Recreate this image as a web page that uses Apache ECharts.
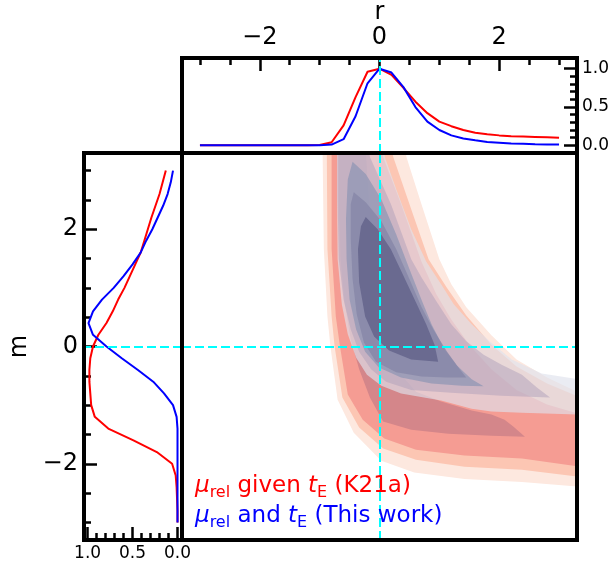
<!DOCTYPE html>
<html>
<head>
<meta charset="utf-8">
<script src="https://cdn.jsdelivr.net/npm/echarts@6/dist/echarts.min.js"></script>
<style>
html, body { margin: 0; padding: 0; background: #fff; }
#chart { width: 615px; height: 565px; }
</style>
</head>
<body>
<div id="chart"></div>
<script>
// marginal of r (top panel)
var rGrid = [-3.0, -2.8, -2.6, -2.4, -2.2, -2.0, -1.8, -1.6, -1.4, -1.2, -1.0, -0.8, -0.6, -0.4, -0.2,
    0.0, 0.2, 0.4, 0.6, 0.8, 1.0, 1.2, 1.4, 1.6, 1.8, 2.0, 2.2, 2.4, 2.6, 2.8, 3.0];
var redR = [0, 0, 0, 0, 0, 0, 0, 0, 0, 0, 0.005, 0.04, 0.26, 0.63, 0.96,
    1.0, 0.92, 0.75, 0.57, 0.42, 0.31, 0.25, 0.20, 0.165, 0.145, 0.13, 0.12, 0.115, 0.11, 0.105, 0.10];
var blueR = [0, 0, 0, 0, 0, 0, 0, 0, 0, 0, 0, 0.01, 0.08, 0.38, 0.81,
    1.0, 0.95, 0.76, 0.50, 0.31, 0.20, 0.13, 0.09, 0.065, 0.045, 0.035, 0.025, 0.02, 0.015, 0.012, 0.01];

// marginal of m (left panel)
var mGrid = [3.0, 2.8, 2.6, 2.4, 2.2, 2.0, 1.8, 1.6, 1.4, 1.2, 1.0, 0.8, 0.6, 0.4, 0.2,
    0.0, -0.2, -0.4, -0.6, -0.8, -1.0, -1.2, -1.4, -1.6, -1.8, -2.0, -2.2, -2.4, -2.6, -2.8, -3.0];
var redM = [0.13, 0.165, 0.20, 0.245, 0.29, 0.33, 0.37, 0.41, 0.47, 0.53, 0.59, 0.66, 0.72, 0.79, 0.88,
    0.94, 0.97, 0.98, 0.98, 0.97, 0.96, 0.92, 0.77, 0.49, 0.23, 0.06, 0.02, 0.01, 0.005, 0, 0];
var blueM = [0.05, 0.075, 0.11, 0.16, 0.22, 0.28, 0.35, 0.41, 0.50, 0.60, 0.71, 0.84, 0.94, 0.99, 0.94,
    0.79, 0.62, 0.44, 0.27, 0.15, 0.05, 0.01, 0, 0, 0, 0, 0, 0, 0, 0, 0];

// ticks
var rMajor = [-2, 0, 2];
var rMinor = [-3, -2.5, -1.5, -1, -0.5, 0.5, 1, 1.5, 2.5, 3];
var mMajor = [-2, 0, 2];
var mMinor = [-3, -2.5, -1.5, -1, -0.5, 0.5, 1, 1.5, 2.5, 3];
var pMajor = [0, 0.5, 1];
var pMinor = [0.1, 0.2, 0.3, 0.4, 0.6, 0.7, 0.8, 0.9];

// contour boundaries [r, m], lower-left edge then upper-right edge
// K21a (red)
var red1Lower = [[-0.95,3.54],[-0.95,3.25],[-0.93,1.66],[-0.87,0.51],[-0.82,0.00],[-0.70,-0.91],[-0.43,-1.47],[0.03,-1.95],[0.58,-2.15],[1.42,-2.26],[2.38,-2.31],[3.34,-2.39],[3.72,-2.41]];
var red1Upper = [[3.72,-0.85],[3.34,-0.79],[2.80,-0.53],[2.29,-0.22],[1.87,0.19],[1.45,0.67],[1.20,1.06],[1.00,1.49],[0.70,2.43],[0.45,3.23],[0.41,3.54]];
var red2Lower = [[-0.88,3.54],[-0.88,3.25],[-0.87,1.66],[-0.80,0.51],[-0.75,0.00],[-0.62,-0.87],[-0.34,-1.38],[0.06,-1.74],[0.61,-1.93],[1.42,-2.05],[2.38,-2.10],[3.34,-2.22],[3.72,-2.24]];
var red2Upper = [[3.72,-0.90],[3.34,-0.86],[2.80,-0.63],[2.29,-0.34],[1.87,0.03],[1.45,0.53],[1.12,1.01],[0.82,1.49],[0.53,2.34],[0.23,3.23],[0.16,3.54]];
var red3Lower = [[-0.80,3.54],[-0.80,1.66],[-0.73,0.51],[-0.66,0.00],[-0.53,-0.82],[-0.28,-1.25],[0.08,-1.57],[0.61,-1.76],[1.42,-1.86],[2.38,-1.91],[3.34,-2.05],[3.72,-2.07]];
var red3Upper = [[3.72,-1.16],[3.34,-1.15],[2.80,-0.99],[2.29,-0.74],[1.87,-0.39],[1.50,0.03],[1.20,0.46],[0.95,0.89],[0.70,1.45],[0.36,2.43],[0.06,3.23],[-0.01,3.54]];
var red4Lower = [[-0.68,3.54],[-0.68,2.51],[-0.65,1.49],[-0.58,0.72],[-0.48,0.12],[-0.34,-0.39],[-0.16,-0.87],[0.06,-1.28],[0.53,-1.42],[1.15,-1.49],[1.87,-1.52],[2.43,-1.54]];
var red4Upper = [[2.24,-1.37],[2.09,-1.25],[1.87,-1.16],[1.54,-1.09],[1.03,-0.94],[0.61,-0.77],[0.28,-0.39],[0.11,0.29],[-0.06,1.32],[-0.18,2.51],[-0.24,3.54]];
// this work (blue)
var blueELower = [[-0.71,3.54],[-0.71,2.51],[-0.70,1.49],[-0.63,0.72],[-0.53,0.21],[-0.39,-0.19],[-0.21,-0.48],[0.03,-0.67],[0.36,-0.80],[1.03,-0.92],[1.54,-1.06],[1.87,-1.11],[2.38,-1.13],[3.34,-1.16],[3.72,-1.18]];
var blueEUpper = [[3.72,-0.60],[3.34,-0.56],[2.71,-0.46],[2.21,-0.22],[1.84,0.09],[1.54,0.38],[1.24,0.72],[1.03,1.06],[0.78,1.45],[0.53,2.00],[0.28,2.68],[0.09,3.23],[0.06,3.54]];
var blueMLower = [[-0.70,3.54],[-0.70,2.51],[-0.68,1.49],[-0.60,0.80],[-0.48,0.29],[-0.34,-0.09],[-0.14,-0.39],[0.11,-0.60],[0.53,-0.74],[1.20,-0.79],[2.04,-0.84],[2.85,-0.87]];
var blueMUpper = [[2.63,-0.70],[2.38,-0.48],[2.04,-0.31],[1.74,-0.14],[1.45,0.09],[1.20,0.38],[0.95,0.77],[0.70,1.18],[0.53,1.49],[0.19,2.43],[-0.16,3.23],[-0.21,3.54]];
var blueALower = [[-0.45,3.15],[-0.53,2.85],[-0.56,2.17],[-0.55,1.49],[-0.50,0.80],[-0.39,0.29],[-0.24,-0.09],[-0.01,-0.36],[0.36,-0.53],[0.87,-0.63],[1.37,-0.67],[1.74,-0.68]];
var blueAUpper = [[1.54,-0.56],[1.29,-0.32],[1.07,-0.02],[0.87,0.38],[0.70,0.80],[0.50,1.32],[0.28,1.91],[0.03,2.51],[-0.23,2.94]];
var blueBLower = [[-0.43,2.63],[-0.48,2.43],[-0.48,1.83],[-0.45,1.15],[-0.38,0.55],[-0.26,0.07],[-0.06,-0.26],[0.28,-0.44],[0.70,-0.51],[1.12,-0.53],[1.45,-0.53]];
var blueBUpper = [[1.34,-0.39],[1.13,-0.09],[0.90,0.29],[0.70,0.68],[0.50,1.15],[0.28,1.66],[0.03,2.14],[-0.23,2.46]];
var blueDLower = [[-0.23,2.21],[-0.31,2.05],[-0.36,1.66],[-0.34,1.09],[-0.24,0.51],[-0.09,0.17],[0.16,-0.07],[0.53,-0.22],[0.98,-0.26]];
var blueDUpper = [[0.92,0.03],[0.78,0.38],[0.61,0.75],[0.39,1.23],[0.19,1.66],[-0.03,2.00]];

var contourShapes = [
    red1Lower.concat(red1Upper),
    red2Lower.concat(red2Upper),
    red3Lower.concat(red3Upper),
    red4Lower.concat(red4Upper),
    blueELower.concat(blueEUpper),
    blueMLower.concat(blueMUpper),
    blueALower.concat(blueAUpper),
    blueBLower.concat(blueBUpper),
    blueDLower.concat(blueDUpper)
];
var contourColors = ['#fde8df', '#fcc6b3', '#f59c93', '#d4868a',
    'rgba(222,226,236,0.65)', 'rgba(175,160,185,0.5)', 'rgba(130,143,177,0.6)',
    'rgba(127,127,161,0.6)', 'rgba(98,98,138,0.8)'];

// layout (px)
var TOP = {left: 182, top: 58, width: 395, height: 95};
var SIDE = {left: 84, top: 153, width: 98, height: 387};
var MAIN = {left: 182, top: 153, width: 395, height: 387};

function minus(v) { return String(v).replace('-', '\u2212'); }
function oneDec(v) { return v.toFixed(1); }

function axis(grid, pos, min, max, extra) {
    var a = {
        gridIndex: grid, type: 'value', position: pos, min: min, max: max,
        axisLine: {show: false, onZero: false},
        splitLine: {show: false},
        axisTick: {show: false},
        axisLabel: {show: false}
    };
    return Object.assign(a, extra || {});
}
function ticks(vals, len) {
    return {show: true, inside: true, length: len, customValues: vals, lineStyle: {color: '#000', width: 2.5}};
}

var cyan = {color: '#00ffff', type: [9, 4], width: 2};
function refLine(items) {
    return {silent: true, symbol: ['none', 'none'], label: {show: false}, lineStyle: cyan, data: items, animation: false};
}

function zip(a, b) {
    return a.map(function (v, i) { return [v, b[i]]; });
}

function renderContour(params, api) {
    var pts = contourShapes[params.dataIndex].map(function (p) { return api.coord(p); });
    return {type: 'polygon', shape: {points: pts}, style: {fill: contourColors[params.dataIndex]}};
}

var chart = echarts.init(document.getElementById('chart'));

var option = {
    animation: false,
    backgroundColor: '#fff',
    textStyle: {fontFamily: 'DejaVu Sans'},
    grid: [
        Object.assign({containLabel: false, outerBoundsMode: 'none'}, TOP),
        Object.assign({containLabel: false, outerBoundsMode: 'none'}, SIDE),
        Object.assign({containLabel: false, outerBoundsMode: 'none'}, MAIN)
    ],
    xAxis: [
        axis(0, 'top', -3.3, 3.3, {
            axisTick: ticks(rMajor, 13),
            axisLabel: {show: true, customValues: rMajor, formatter: minus, fontSize: 24, color: '#000', margin: 8},
            name: 'r', nameLocation: 'middle', nameGap: 33,
            nameTextStyle: {fontSize: 24, color: '#000'}
        }),
        axis(0, 'top', -3.3, 3.3, {axisTick: ticks(rMinor, 7)}),
        axis(1, 'bottom', -0.05, 1.04, {
            inverse: true,
            axisTick: ticks(pMajor, 13),
            axisLabel: {show: true, customValues: pMajor, formatter: oneDec, fontSize: 17, color: '#000', margin: 5}
        }),
        axis(1, 'bottom', -0.05, 1.04, {inverse: true, axisTick: ticks(pMinor, 7)}),
        axis(2, 'bottom', -3.3, 3.3, {show: false})
    ],
    yAxis: [
        axis(0, 'right', -0.1, 1.14, {
            axisTick: ticks(pMajor, 13),
            axisLabel: {show: true, customValues: pMajor, formatter: oneDec, fontSize: 17, color: '#000', margin: 5}
        }),
        axis(0, 'right', -0.1, 1.14, {axisTick: ticks(pMinor, 7)}),
        axis(1, 'left', -3.3, 3.3, {
            axisTick: ticks(mMajor, 13),
            axisLabel: {show: true, customValues: mMajor, formatter: minus, fontSize: 24, color: '#000', margin: 6},
            name: 'm', nameLocation: 'middle', nameGap: 52,
            nameTextStyle: {fontSize: 24, color: '#000'}
        }),
        axis(1, 'left', -3.3, 3.3, {axisTick: ticks(mMinor, 7)}),
        axis(2, 'left', -3.3, 3.3, {show: false})
    ],
    series: [
        // main panel contours
        {
            type: 'custom', xAxisIndex: 4, yAxisIndex: 4, clip: true, silent: true,
            renderItem: renderContour,
            data: contourShapes.map(function (s, i) { return [i, 0]; }),
            z: 2
        },
        {
            type: 'line', xAxisIndex: 4, yAxisIndex: 4, data: [], z: 5,
            markLine: refLine([{xAxis: 0}, {yAxis: 0}])
        },
        // top marginal
        {
            type: 'line', xAxisIndex: 0, yAxisIndex: 0, data: zip(rGrid, redR),
            symbol: 'none', lineStyle: {color: '#ff0000', width: 2}, z: 3
        },
        {
            type: 'line', xAxisIndex: 0, yAxisIndex: 0, data: zip(rGrid, blueR),
            symbol: 'none', lineStyle: {color: '#0000ff', width: 2}, z: 4,
            markLine: refLine([{xAxis: 0}])
        },
        // left marginal
        {
            type: 'line', xAxisIndex: 2, yAxisIndex: 2, data: zip(redM, mGrid),
            symbol: 'none', lineStyle: {color: '#ff0000', width: 2}, z: 3
        },
        {
            type: 'line', xAxisIndex: 2, yAxisIndex: 2, data: zip(blueM, mGrid),
            symbol: 'none', lineStyle: {color: '#0000ff', width: 2}, z: 4,
            markLine: refLine([{yAxis: 0}])
        }
    ],
    graphic: [
        {
            type: 'text', x: 195, y: 471, z: 50,
            style: {
                text: '{mr|\u03bc}{sr|rel}{tr| given }{mr|t}{sr|E}{tr| (K21a)}\n' +
                      '{mb|\u03bc}{sb|rel}{tb| and }{mb|t}{sb|E}{tb| (This work)}',
                verticalAlign: 'top',
                rich: {
                    mr: {fontSize: 23, fontStyle: 'italic', fill: '#ff0000', lineHeight: 30, fontFamily: 'DejaVu Sans'},
                    sr: {fontSize: 16, fill: '#ff0000', lineHeight: 17, verticalAlign: 'bottom', fontFamily: 'DejaVu Sans'},
                    tr: {fontSize: 23, fill: '#ff0000', lineHeight: 30, fontFamily: 'DejaVu Sans'},
                    mb: {fontSize: 23, fontStyle: 'italic', fill: '#0000ff', lineHeight: 30, fontFamily: 'DejaVu Sans'},
                    sb: {fontSize: 16, fill: '#0000ff', lineHeight: 17, verticalAlign: 'bottom', fontFamily: 'DejaVu Sans'},
                    tb: {fontSize: 23, fill: '#0000ff', lineHeight: 30, fontFamily: 'DejaVu Sans'}
                }
            }
        },
        // panel frames
        {type: 'rect', z: 100, silent: true, shape: {x: TOP.left, y: TOP.top, width: TOP.width, height: TOP.height},
            style: {fill: 'none', stroke: '#000', lineWidth: 4}},
        {type: 'rect', z: 100, silent: true, shape: {x: SIDE.left, y: SIDE.top, width: SIDE.width, height: SIDE.height},
            style: {fill: 'none', stroke: '#000', lineWidth: 4}},
        {type: 'rect', z: 100, silent: true, shape: {x: MAIN.left, y: MAIN.top, width: MAIN.width, height: MAIN.height},
            style: {fill: 'none', stroke: '#000', lineWidth: 4}}
    ]
};

chart.setOption(option);
</script>
</body>
</html>
